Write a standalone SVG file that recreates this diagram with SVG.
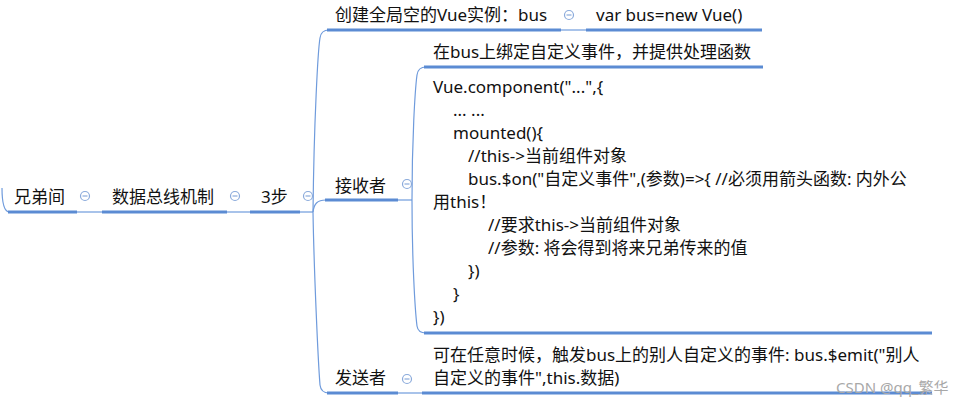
<svg xmlns="http://www.w3.org/2000/svg" width="978" height="405" viewBox="0 0 978 405">
<style>
text{font-family:"Noto Sans","Noto Sans CJK SC",sans-serif;font-size:17px;fill:#111}
.u{stroke:#5b8bd3;stroke-width:3;fill:none}
.c{stroke:#6f9bdc;stroke-width:1.2;fill:none}
.wm{font-size:15px;fill:#a8a8a8}
</style>
<defs>
<g id="b"><circle r="4.5" fill="#fff" stroke="#8aaadb" stroke-width="1.2"/><line x1="-2.5" y1="0" x2="2.5" y2="0" stroke="#8aaadb" stroke-width="1.2"/></g>
</defs>
<rect width="978" height="405" fill="#fff"/>
<g id="connectors">
<path class="c" d="M2,188 Q2,211 9,212"/>
<path class="c" d="M77,212 H102"/>
<path class="c" d="M227,212 H250"/>
<path class="c" d="M300,212 H313"/>
<path class="c" d="M313,212 C314,120 318,50 320,38 Q321,30 329,30"/>
<path class="c" d="M313,212 C314,270 318,360 320,385 Q321,393 329,393"/>
<path class="c" d="M313,212 C314,204 317,200 326,200"/>
<path class="c" d="M561,30 H586"/>
<path class="c" d="M398,200 H412"/>
<path class="c" d="M412,200 C412,140 415,90 417,75 Q418,67 426,67"/>
<path class="c" d="M412,200 C412,260 415,310 417,326 Q418,333 426,333"/>
<path class="c" d="M398,393 H422"/>
</g>
<g id="n-root">
<path class="u" d="M8,212 H77"/>
<text x="14" y="203">兄弟间</text>
<use href="#b" x="85" y="196"/>
</g>
<g id="n-bus">
<path class="u" d="M102,212 H227"/>
<text x="112" y="203">数据总线机制</text>
<use href="#b" x="235" y="196"/>
</g>
<g id="n-3">
<path class="u" d="M250,212 H300"/>
<text x="261" y="203">3步</text>
<use href="#b" x="308" y="196"/>
</g>
<g id="n-create">
<path class="u" d="M327,30 H561"/>
<text x="335" y="21">创建全局空的Vue实例：bus</text>
<use href="#b" x="569" y="15"/>
</g>
<g id="n-var">
<path class="u" d="M586,30 H762"/>
<text x="596" y="21">var bus=new Vue()</text>
</g>
<g id="n-recv">
<path class="u" d="M325,200 H398"/>
<text x="335" y="192">接收者</text>
<use href="#b" x="407" y="184"/>
</g>
<g id="n-bind">
<path class="u" d="M424,67 H763"/>
<text x="433" y="58">在bus上绑定自定义事件，并提供处理函数</text>
</g>
<g id="n-code">
<path class="u" d="M424,333 H932"/>
<text x="433" y="93">Vue.component("...",{</text>
<text x="453" y="116">... ...</text>
<text x="453" y="139">mounted(){</text>
<text x="468" y="162">//this-&gt;当前组件对象</text>
<text x="468" y="185">bus.$on("自定义事件",(参数)=&gt;{ //必须用箭头函数: 内外公</text>
<text x="433" y="208">用this！</text>
<text x="488" y="231">//要求this-&gt;当前组件对象</text>
<text x="488" y="254">//参数: 将会得到将来兄弟传来的值</text>
<text x="468" y="277">})</text>
<text x="453" y="300">}</text>
<text x="433" y="323">})</text>
</g>
<g id="n-send">
<path class="u" d="M327,393 H398"/>
<text x="335" y="384">发送者</text>
<use href="#b" x="407" y="379"/>
</g>
<g id="n-emit">
<path class="u" d="M422,393 H932"/>
<text x="433" y="361">可在任意时候，触发bus上的别人自定义的事件: bus.$emit("别人</text>
<text x="433" y="384">自定义的事件",this.数据)</text>
</g>
<text class="wm" x="836" y="393">CSDN @qq_繁华</text>
</svg>
